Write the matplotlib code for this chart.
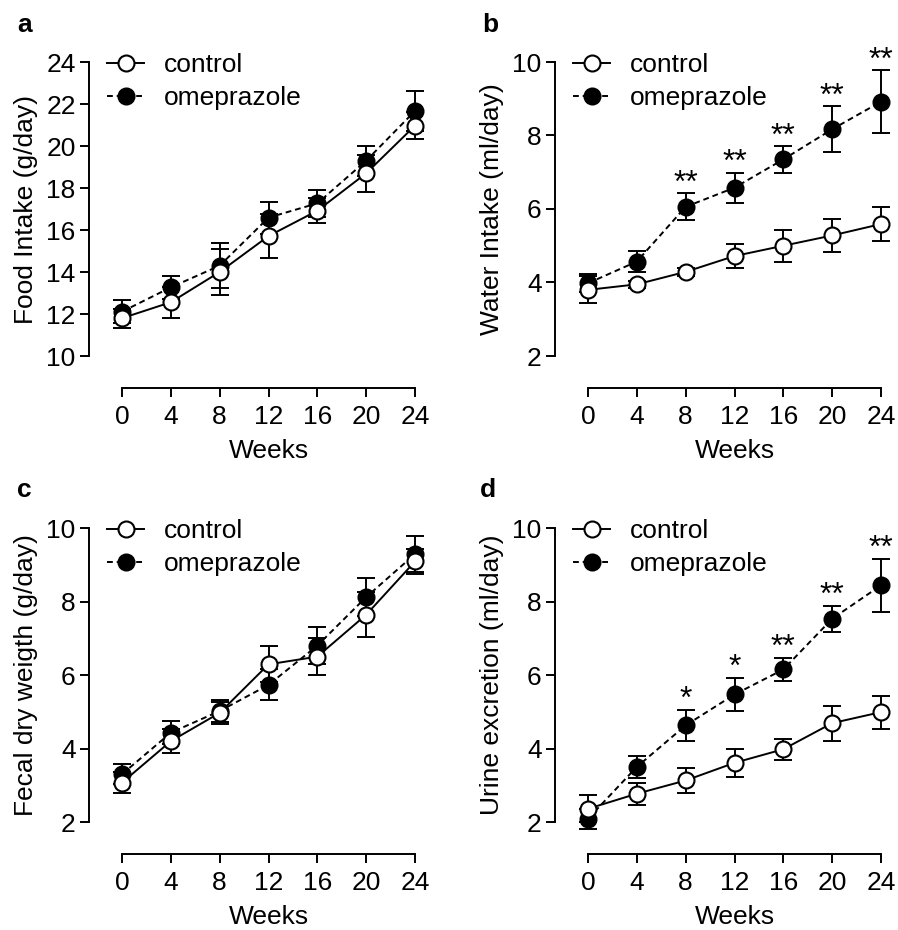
import matplotlib
matplotlib.use("Agg")
import matplotlib.pyplot as plt
from matplotlib.lines import Line2D

plt.rcParams['font.family'] = ['Liberation Sans', 'DejaVu Sans']

weeks = [0, 4, 8, 12, 16, 20, 24]

# a: food intake (g/day)
food_ctrl = [11.8, 12.56, 14.0, 15.71, 16.92, 18.7, 20.97]
food_ctrl_err = [0.45, 0.73, 1.1, 1.06, 0.6, 0.87, 0.65]
food_ome = [12.11, 13.27, 14.3, 16.59, 17.27, 19.3, 21.67]
food_ome_err = [0.56, 0.54, 1.07, 0.76, 0.63, 0.72, 0.96]

# b: water intake (ml/day)
water_ctrl = [3.8, 3.95, 4.29, 4.72, 5.0, 5.28, 5.59]
water_ctrl_err = [0.37, 0.1, 0.1, 0.33, 0.43, 0.45, 0.47]
water_ome = [3.98, 4.57, 6.06, 6.58, 7.35, 8.17, 8.92]
water_ome_err = [0.25, 0.28, 0.37, 0.41, 0.36, 0.63, 0.85]
water_sig = ['', '', '**', '**', '**', '**', '**']

# c: fecal dry weight (g/day)
fecal_ctrl = [3.07, 4.2, 4.97, 6.29, 6.5, 7.64, 9.09]
fecal_ctrl_err = [0.28, 0.33, 0.3, 0.49, 0.51, 0.61, 0.34]
fecal_ome = [3.3, 4.43, 5.02, 5.73, 6.8, 8.12, 9.29]
fecal_ome_err = [0.27, 0.32, 0.29, 0.42, 0.5, 0.51, 0.5]

# d: urine excretion (ml/day)
urine_ctrl = [2.36, 2.77, 3.13, 3.61, 3.98, 4.69, 4.99]
urine_ctrl_err = [0.37, 0.3, 0.33, 0.39, 0.29, 0.48, 0.45]
urine_ome = [2.09, 3.5, 4.63, 5.47, 6.15, 7.53, 8.44]
urine_ome_err = [0.27, 0.3, 0.43, 0.46, 0.32, 0.36, 0.73]
urine_sig = ['', '', '*', '*', '**', '**', '**']

FS = 19
LW = 1.4
MS = 11.5
MEW = 1.5
DASH = (0, (3, 2))


def draw_panel(ax, ctrl, ctrl_err, ome, ome_err, ylim, yticks, ylabel, sig=None):
    # omeprazole first so control sits on top
    for vals, errs, face, ls, z in ((ome, ome_err, 'black', DASH, 2),
                                    (ctrl, ctrl_err, 'white', '-', 3)):
        eb = ax.errorbar(weeks, vals, yerr=errs, fmt='none', ecolor='black',
                         elinewidth=LW, capsize=6.5, capthick=LW, zorder=z)
        for art in eb.lines[1] + eb.lines[2]:
            art.set_clip_on(False)
        ax.plot(weeks, vals, color='black', lw=LW, linestyle=ls, marker='o',
                markersize=MS, markerfacecolor=face, markeredgecolor='black',
                markeredgewidth=MEW, zorder=z + 0.5, clip_on=False)

    if sig is not None:
        for x, v, e, s in zip(weeks, ome, ome_err, sig):
            if s:
                ax.annotate(s, (x, v + e), xytext=(0, -4), textcoords='offset points',
                            ha='center', va='bottom', fontsize=23, annotation_clip=False)

    ax.set_xlim(0, 24)
    ax.set_ylim(*ylim)
    ax.set_xticks(weeks)
    ax.set_yticks(yticks)
    ax.spines['top'].set_visible(False)
    ax.spines['right'].set_visible(False)
    ax.spines['left'].set_position(('outward', 23.8))
    ax.spines['bottom'].set_position(('outward', 23))
    ax.spines['left'].set_linewidth(LW)
    ax.spines['bottom'].set_linewidth(LW)
    ax.tick_params(direction='out', length=6.5, width=LW, labelsize=FS)
    ax.tick_params(axis='x', pad=6)
    ax.tick_params(axis='y', pad=3)
    ax.set_xlabel('Weeks', fontsize=FS, labelpad=7)
    ax.set_ylabel(ylabel, fontsize=FS, labelpad=6)

    handles = [
        Line2D([], [], color='black', lw=LW, marker='o', markersize=MS,
               markerfacecolor='white', markeredgewidth=MEW),
        Line2D([], [], color='black', lw=LW, linestyle=DASH, marker='o',
               markersize=MS, markerfacecolor='black', markeredgewidth=MEW),
    ]
    ax.legend(handles, ['control', 'omeprazole'], loc='upper left',
              bbox_to_anchor=(-0.05, 1.03), frameon=False, fontsize=FS,
              handlelength=1.4, handletextpad=0.75, labelspacing=0.35,
              borderpad=0, borderaxespad=0)


fig = plt.figure(figsize=(8.98, 9.30), dpi=100)
W, H = 898.0, 930.0
ax_a = fig.add_axes([122 / W, 1 - 356 / H, 293 / W, 294 / H])
ax_b = fig.add_axes([588 / W, 1 - 356 / H, 293 / W, 294 / H])
ax_c = fig.add_axes([122 / W, 1 - 822 / H, 293 / W, 294 / H])
ax_d = fig.add_axes([588 / W, 1 - 822 / H, 293 / W, 294 / H])

draw_panel(ax_a, food_ctrl, food_ctrl_err, food_ome, food_ome_err,
           (10, 24), [10, 12, 14, 16, 18, 20, 22, 24], 'Food Intake (g/day)')
draw_panel(ax_b, water_ctrl, water_ctrl_err, water_ome, water_ome_err,
           (2, 10), [2, 4, 6, 8, 10], 'Water Intake (ml/day)', water_sig)
draw_panel(ax_c, fecal_ctrl, fecal_ctrl_err, fecal_ome, fecal_ome_err,
           (2, 10), [2, 4, 6, 8, 10], 'Fecal dry weigth (g/day)')
draw_panel(ax_d, urine_ctrl, urine_ctrl_err, urine_ome, urine_ome_err,
           (2, 10), [2, 4, 6, 8, 10], 'Urine excretion (ml/day)', urine_sig)

for lbl, x, y in (('a', 17, 32), ('b', 482, 32), ('c', 17, 497), ('d', 480, 497)):
    fig.text(x / W, 1 - y / H, lbl, fontsize=19, fontweight='bold', va='baseline')

fig.savefig('out.png', dpi=100)
